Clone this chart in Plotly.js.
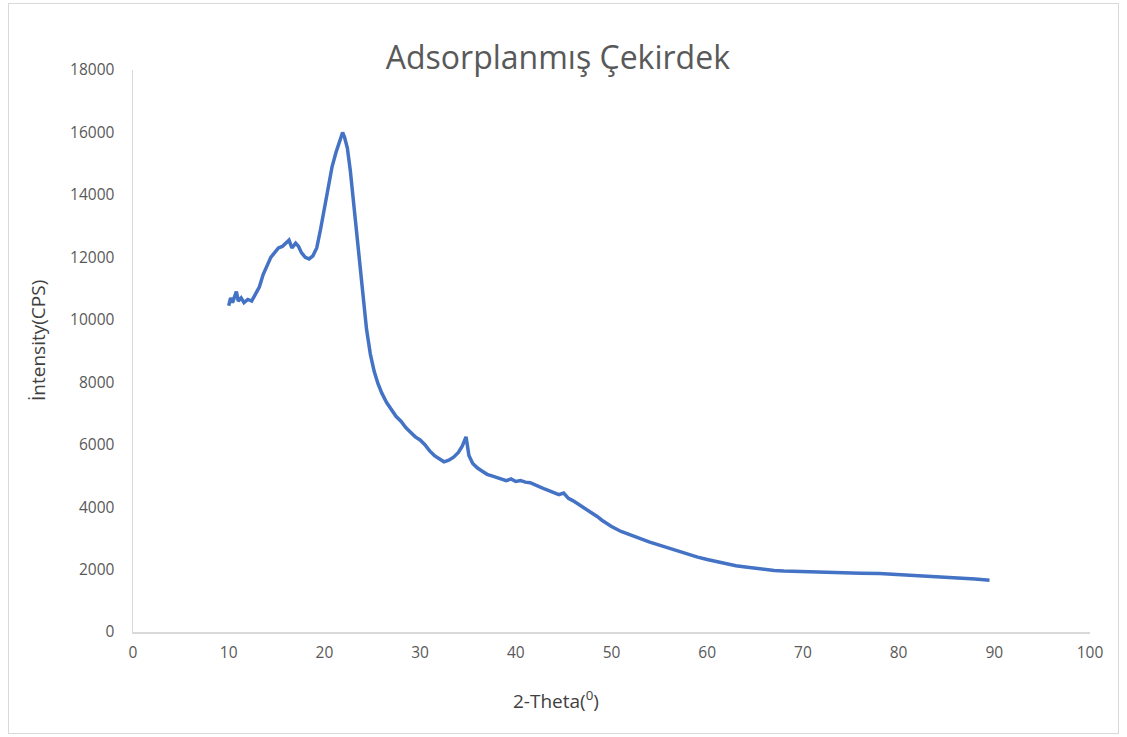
<!DOCTYPE html>
<html>
<head>
<meta charset="utf-8">
<script src="https://cdn.plot.ly/plotly-3.0.1.min.js"></script>
<style>
  html, body { margin: 0; padding: 0; background: #fff; }
  #wrap { position: relative; width: 1127px; height: 737px; }
  #chart { width: 1127px; height: 737px; }
  #frame { position: absolute; left: 8px; top: 3px; width: 1111px; height: 731px;
           border: 1.5px solid #d9d9d9; pointer-events: none; box-sizing: border-box; }
</style>
</head>
<body>
<div id="wrap">
  <div id="chart"></div>
  <div id="frame"></div>
</div>
<script>
const chartTitle = "Adsorplanmış Çekirdek";
const xTitle = "2-Theta(<sup>0</sup>)";
const yTitle = "İntensity(CPS)";

const twoTheta = [
  10.0, 10.2, 10.4, 10.6, 10.8, 11.0, 11.3, 11.6, 12.0, 12.4, 12.8, 13.2, 13.6, 14.0, 14.4, 14.8,
  15.2, 15.6, 16.0, 16.3, 16.6, 17.0, 17.3, 17.6, 18.0, 18.4, 18.8, 19.2, 19.6, 20.0, 20.4, 20.8,
  21.2, 21.6, 21.9, 22.1, 22.4, 22.7, 23.0, 23.3, 23.6, 24.0, 24.4, 24.8, 25.2, 25.6, 26.0, 26.5,
  27.0, 27.5, 28.0, 28.5, 29.0, 29.5, 30.0, 30.5, 31.0, 31.5, 32.0, 32.5, 33.0, 33.5, 34.0, 34.4,
  34.8, 35.1, 35.5, 36.0, 36.5, 37.0, 37.5, 38.0, 38.5, 39.0, 39.5, 40.0, 40.5, 41.0, 41.5, 42.0,
  42.5, 43.0, 43.5, 44.0, 44.5, 45.0, 45.5, 46.0, 46.5, 47.0, 47.5, 48.0, 48.5, 49.0, 49.5, 50.0,
  51, 52, 53, 54, 55, 56, 57, 58, 59, 60, 61, 62, 63, 64, 65, 66, 67, 68, 69, 70,
  72, 74, 76, 78, 80, 82, 84, 86, 88, 89.5
];
const intensity = [
  10450, 10700, 10550, 10750, 10900, 10600, 10700, 10550, 10650, 10600, 10800, 11050, 11450, 11750, 12000, 12150,
  12300, 12350, 12450, 12550, 12300, 12450, 12350, 12150, 12000, 11950, 12050, 12300, 12900, 13600, 14300, 14900,
  15350, 15700, 16000, 15850, 15500, 14800, 13900, 12900, 11900, 10800, 9700, 8900, 8350, 7950, 7650, 7350,
  7100, 6900, 6750, 6550, 6400, 6250, 6150, 6000, 5800, 5650, 5550, 5450, 5500, 5600, 5750, 5950,
  6250, 5650, 5400, 5250, 5150, 5050, 5000, 4950, 4900, 4850, 4900, 4820, 4850, 4800, 4780, 4700,
  4650, 4580, 4520, 4450, 4400, 4450, 4280, 4200, 4100, 4000, 3920, 3800, 3700, 3580, 3480, 3380,
  3220, 3100, 2980, 2880, 2780, 2680, 2580, 2490, 2400, 2320, 2250, 2180, 2120, 2080, 2040, 2000, 1970, 1950, 1940, 1920,
  1900, 1890, 1880, 1870, 1840, 1800, 1760, 1730, 1700, 1660
];

const xTicks = [0, 10, 20, 30, 40, 50, 60, 70, 80, 90, 100];
const yTicks = [0, 2000, 4000, 6000, 8000, 10000, 12000, 14000, 16000, 18000];

const grey = "#595959";
const trace = {
  x: twoTheta, y: intensity, type: "scatter", mode: "lines",
  line: { color: "#4472C4", width: 3.5 }, showlegend: false, hoverinfo: "x+y"
};

const layout = {
  width: 1127, height: 737,
  paper_bgcolor: "#ffffff", plot_bgcolor: "#ffffff",
  margin: { l: 133, r: 37, t: 70, b: 105 },
  font: { family: "Open Sans, sans-serif", color: grey },
  title: { text: chartTitle, x: 0.495, xref: "container", xanchor: "center", y: 0.921, yanchor: "middle",
           font: { size: 32, color: grey, family: "Open Sans, sans-serif" } },
  xaxis: {
    range: [0, 100], tickvals: xTicks, ticktext: xTicks.map(String),
    showgrid: false, zeroline: false, showline: true, linecolor: "#d9d9d9", linewidth: 1.5,
    ticks: "", ticklabelstandoff: 6, tickfont: { size: 15.5, color: grey }
  },
  yaxis: {
    range: [0, 18000], tickvals: yTicks, ticktext: yTicks.map(String),
    showgrid: false, zeroline: false, showline: true, linecolor: "#d9d9d9", linewidth: 1.5,
    ticks: "", ticklabelstandoff: 14, tickfont: { size: 15.5, color: grey }
  },
  annotations: [
    { text: xTitle, xref: "paper", yref: "paper", x: 0.442, y: -0.121, xanchor: "center", yanchor: "middle",
      showarrow: false, font: { size: 19, color: "#404040" } },
    { text: yTitle, xref: "paper", yref: "paper", x: -0.0993, y: 0.5196, xanchor: "center", yanchor: "middle",
      textangle: -90, showarrow: false, font: { size: 19, color: "#404040" } }
  ]
};

Plotly.newPlot("chart", [trace], layout, { displayModeBar: false, staticPlot: true });
</script>
</body>
</html>
